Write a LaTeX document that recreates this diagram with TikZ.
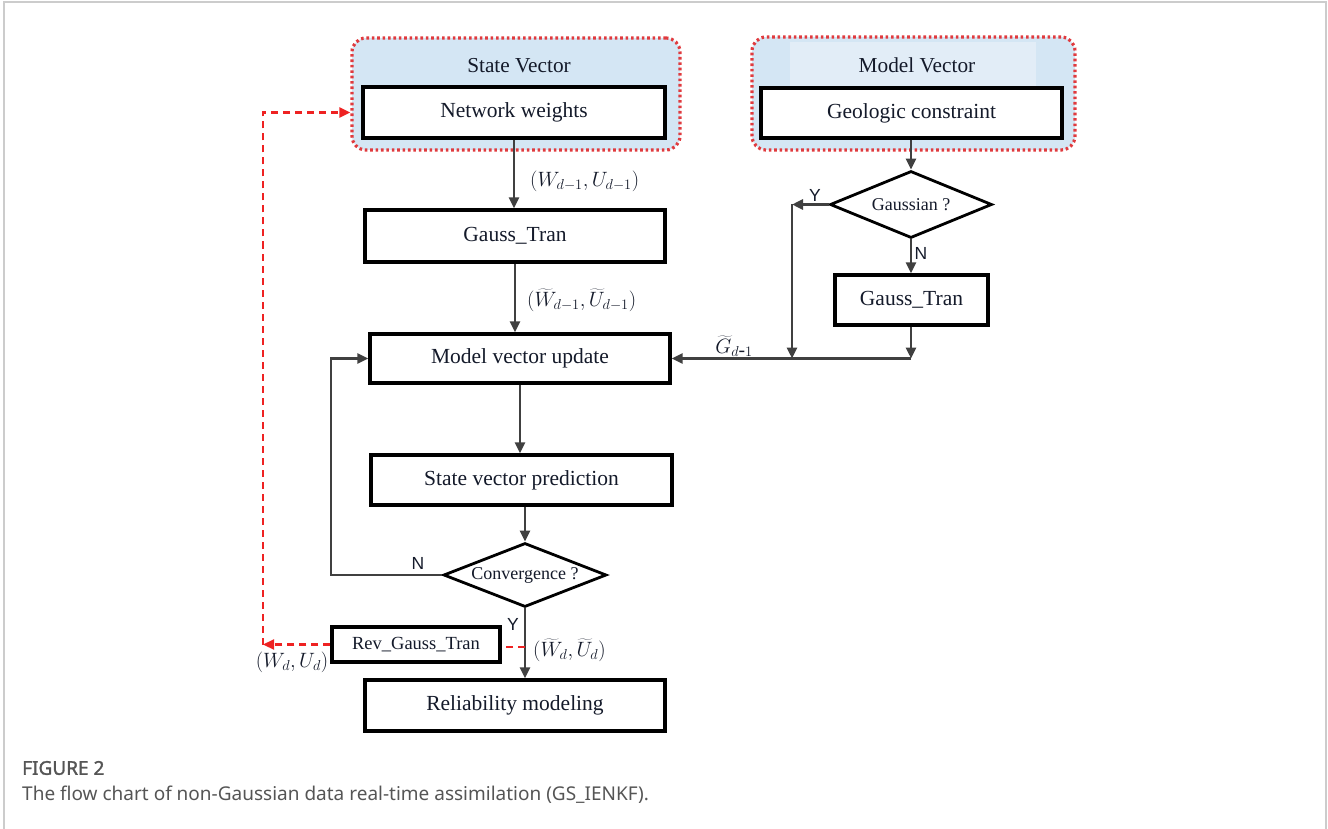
\documentclass[tikz,border=0pt]{standalone}
\usepackage{fontspec}
\setmainfont{Liberation Serif}
\newfontfamily\arialf{Liberation Sans}
\newfontfamily\capf{Noto Sans}
\newfontfamily\capfb[FakeBold=1.6]{Noto Sans}
\usetikzlibrary{shapes.geometric,arrows.meta}
\definecolor{ln}{HTML}{404040}
\definecolor{grpblue}{HTML}{D4E6F4}
\definecolor{grplight}{HTML}{E2EDF7}
\definecolor{dotred}{HTML}{E03A3E}
\definecolor{dred}{HTML}{EE2222}
\definecolor{txt}{HTML}{141A2A}
\definecolor{capgray}{HTML}{555555}
\begin{document}
\begin{tikzpicture}[x=1pt,y=-1pt,
  box/.style n args={2}{draw=black,line width=3.4pt,fill=white,minimum width=#1,minimum height=#2,inner sep=0pt,font=\fontsize{21.5}{23}\selectfont,text=txt},
  dia/.style n args={2}{draw=black,line width=2.8pt,fill=white,shape=diamond,aspect=2.5,minimum width=#1,minimum height=#2,inner sep=0pt,font=\fontsize{18}{20}\selectfont,text=txt},
  grp/.style={draw=dotred,line width=3.2pt,dash pattern=on 2.6pt off 2.8pt,line cap=butt,fill=grpblue,rounded corners=14pt,inner sep=0pt},
  ttl/.style={font=\fontsize{21.3}{23}\selectfont,text=txt,inner sep=0pt},
  flow/.style={draw=ln,line width=2.7pt,-{Triangle[length=11pt,width=10pt]}},
  redflow/.style={draw=dred,line width=2.2pt,dash pattern=on 7pt off 5pt},
  redtip/.style={-{Triangle[length=11pt,width=10pt,fill=dred]}},
  lbl/.style={font=\fontsize{19.6}{21}\selectfont,text=txt,inner sep=0pt},
  yn/.style={font=\arialf\fontsize{17.5}{19}\selectfont,text=txt,inner sep=0pt},
  captxt/.style={font=\capf\fontsize{19}{22}\selectfont,text=capgray,inner sep=0pt,anchor=west}
]
\useasboundingbox (0,0) rectangle (1328,829);
\draw[draw=black!20,line width=1.5pt] (4,840) -- (4,2) -- (1326,2) -- (1326,840);

% groups
\node[grp,minimum width=328pt,minimum height=112pt] (svg) at (516,94) {};
\node[grp,minimum width=323pt,minimum height=113pt] (mvg) at (913.5,93.5) {};
\fill[grplight] (790,42) rectangle (1036,87);
\node[ttl] (svt) at (519,66) {State Vector};
\node[ttl] (mvt) at (917,65) {Model Vector};

% boxes
\node[box={302pt}{51pt}] (nw) at (514,112.5) {Network weights};
\node[box={301pt}{50pt}] (gc) at (911.5,113) {Geologic constraint};
\node[box={300pt}{52pt}] (gt1) at (515,236) {Gauss\_Tran};
\node[box={300pt}{49pt}] (mvu) at (520,358.5) {Model vector update};
\node[box={301pt}{50pt}] (svp) at (521.5,480) {State vector prediction};
\node[dia={163pt}{64pt}] (conv) at (525,575) {Convergence ?};
\node[box={300pt}{51pt}] (rel) at (515,705.5) {Reliability modeling};
\node[box={168pt}{35pt},font=\fontsize{18.5}{20}\selectfont] (rev) at (416,644.5) {Rev\_Gauss\_Tran};
\node[dia={162pt}{67pt}] (gd) at (911,204.5) {Gaussian ?};
\node[box={153pt}{50pt}] (gt2) at (911.5,300) {Gauss\_Tran};

% main flow
\draw[flow] (nw.south) -- (nw.south |- gt1.north);
\draw[flow] (gt1.south) -- (gt1.south |- mvu.north);
\draw[flow] (mvu.south) -- (mvu.south |- svp.north);
\draw[flow] (svp.south -| conv.north) -- (conv.north);
\draw[flow] (conv.south) -- (conv.south |- rel.north);
\coordinate (lp) at (331,575);
\draw[flow] (conv.west) -- (lp) |- (mvu.west);

% right branch
\draw[flow] (gc.south -| gd.north) -- (gd.north);
\coordinate (yc) at (792,204.5);
\coordinate (yb) at (792,358.5);
\coordinate (nb) at (911,358.5);
\draw[flow] (gd.west) -- (yc);
\draw[flow] (yc) -- (yb);
\draw[flow] (gd.south) -- (gd.south |- gt2.north);
\draw[flow] (gt2.south -| nb) -- (nb);
\draw[flow] (nb) -- (mvu.east);

% red feedback
\coordinate (rj) at (525,647);
\coordinate (rl) at (263,644.5);
\draw[redflow] (rj) -- (rj -| rev.east);
\draw[redflow,redtip] (rev.west |- rl) -- (rl);
\draw[redflow,redtip] (rl) |- (svg.west |- nw.west);

% labels
\node[lbl,anchor=west] (l1) at (530,181) {$(W_{d-1},U_{d-1})$};
\node[lbl,anchor=west] (l2) at (527,300) {$(\widetilde{W}_{d-1},\widetilde{U}_{d-1})$};
\node[lbl] (l3) at (734,346) {$\widetilde{G}_{d\mbox{-}1}$};
\node[lbl,anchor=west] (l4) at (533,650) {$(\widetilde{W}_{d},\widetilde{U}_{d})$};
\node[lbl] (l5) at (292,662) {$(W_{d},U_{d})$};
\node[yn] (y1) at (815,195) {Y};
\node[yn] (n1) at (921,253) {N};
\node[yn] (n2) at (418,563) {N};
\node[yn] (y2) at (513,624) {Y};

% caption
\node[captxt,font=\capfb\fontsize{19}{22}\selectfont] (c1) at (22,768) {FIGURE 2};
\node[captxt] (c2) at (22,795) {The flow chart of non-Gaussian data real-time assimilation (GS\_IENKF).};
\end{tikzpicture}
\end{document}
